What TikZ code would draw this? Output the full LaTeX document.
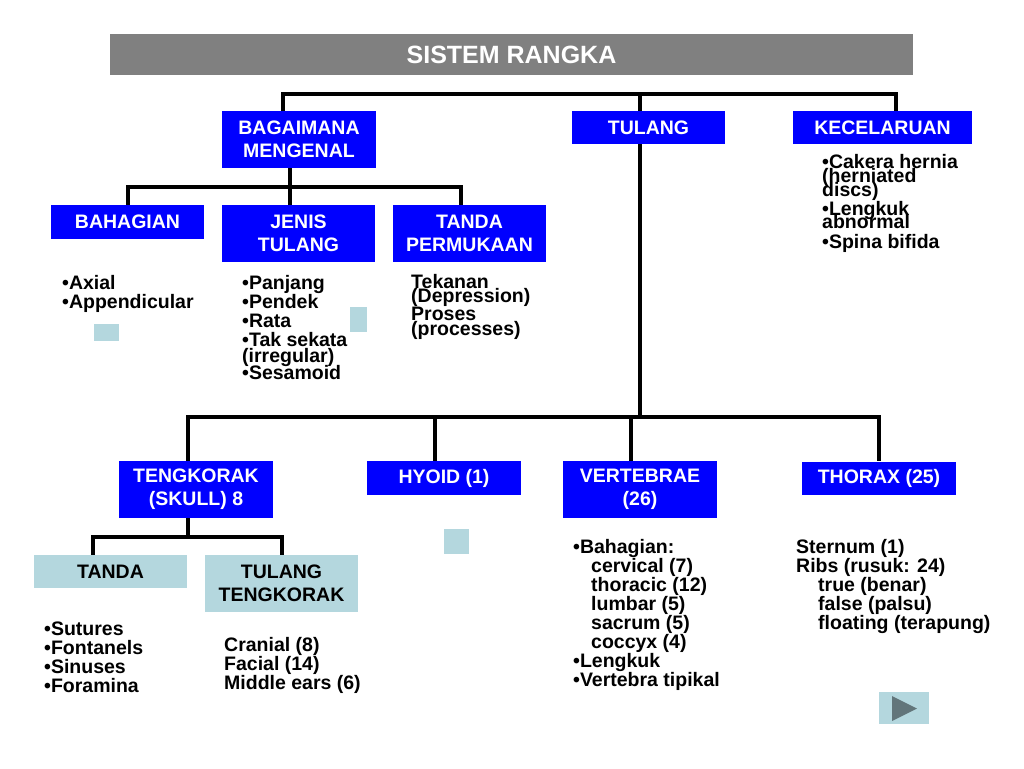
\documentclass[tikz,border=0pt]{standalone}
\usepackage{fontspec}
\setmainfont{Liberation Sans}
\definecolor{kotakbiru}{RGB}{0,0,255}
\definecolor{kelabu}{RGB}{128,128,128}
\definecolor{birumuda}{RGB}{180,215,222}
\definecolor{segitiga}{RGB}{98,117,122}

\begin{document}
\begin{tikzpicture}[
    x=1pt, y=-1pt,
    box/.style={fill=kotakbiru, text=white, inner sep=0pt, align=center,
        minimum width=153, minimum height=33,
        font=\fontsize{19.5}{23}\selectfont\bfseries},
    lightbox/.style={box, fill=birumuda, text=black},
    senarai/.style={anchor=base west, inner sep=0pt, align=left,
        font=\fontsize{19.5}{19}\selectfont\bfseries},
    conn/.style={line width=4, line join=miter}
]
    \useasboundingbox (0,0) rectangle (1024,768);

    % Tajuk
    \node[fill=kelabu, text=white, minimum width=803, minimum height=41, inner sep=0pt,
        font=\fontsize{25}{28}\selectfont\bfseries] (tajuk) at (511.5,54.5) {SISTEM RANGKA};

    % Aras pertama
    \node[box, minimum width=154, minimum height=57] (bagaimana) at (299,139.5) {BAGAIMANA\\MENGENAL};
    \node[box] (tulang) at (648.5,127.5) {TULANG};
    \node[box, minimum width=179] (kecelaruan) at (882.5,127.5) {KECELARUAN};

    % Aras kedua
    \node[box, minimum height=34] (bahagian) at (127.5,222) {BAHAGIAN};
    \node[box, minimum height=57] (jenis) at (298.5,233.5) {JENIS\\TULANG};
    \node[box, minimum height=57] (tandaperm) at (469.5,233.5) {TANDA\\PERMUKAAN};

    % Aras ketiga
    \node[box, minimum width=154, minimum height=57] (tengkorak) at (196,489.5) {TENGKORAK\\(SKULL) 8};
    \node[box, minimum width=154, minimum height=34] (hyoid) at (444,478) {HYOID (1)};
    \node[box, minimum width=154, minimum height=57] (vertebrae) at (640,489.5) {VERTEBRAE\\(26)};
    \node[box, minimum width=154] (thorax) at (879,478) {THORAX (25)};

    % Tengkorak
    \node[lightbox] (tandatk) at (110.5,571.5) {TANDA};
    \node[lightbox, minimum height=57] (tulangtk) at (281.5,583.5) {TULANG\\TENGKORAK};

    % Senarai (kedudukan = garis dasar baris terakhir)
    \node[senarai] (lkecelaruan) at (822,248) {•Cakera hernia\\[-5pt](herniated\\[-5pt]discs)\\•Lengkuk\\[-6pt]abnormal\\[1pt]•Spina bifida};
    \node[senarai] (lbahagian) at (62,308) {•Axial\\•Appendicular};
    \node[senarai] (ljenis) at (242,379) {•Panjang\\•Pendek\\•Rata\\•Tak sekata\\[-3pt](irregular)\\[-2pt]•Sesamoid};
    \node[senarai] (ltandaperm) at (411,335) {Tekanan\\[-5pt](Depression)\\[-1pt]Proses\\[-4pt](processes)};
    \node[senarai] (ltandatk) at (44,692) {•Sutures\\•Fontanels\\•Sinuses\\•Foramina};
    \node[senarai] (ltulangtk) at (224,689) {Cranial (8)\\Facial (14)\\Middle ears (6)};
    \node[senarai] (lvertebrae) at (573,686) {•Bahagian:\\\hspace*{18pt}cervical (7)\\\hspace*{18pt}thoracic (12)\\\hspace*{18pt}lumbar (5)\\\hspace*{18pt}sacrum (5)\\\hspace*{18pt}coccyx (4)\\•Lengkuk\\•Vertebra tipikal};
    \node[senarai] (lthorax) at (796,629) {Sternum (1)\\Ribs (rusuk: 24)\\\hspace*{22pt}true (benar)\\\hspace*{22pt}false (palsu)\\\hspace*{22pt}floating (terapung)};

    % Titik simpang
    \coordinate (j1) at (283,94);
    \coordinate (j2) at (640,94);
    \coordinate (j3) at (896,94);
    \coordinate (k1) at (128,187);
    \coordinate (k2) at (290,187);
    \coordinate (k3) at (461,187);
    \coordinate (m0) at (640,417);
    \coordinate (m1) at (188,417);
    \coordinate (m2) at (435,417);
    \coordinate (m3) at (631,417);
    \coordinate (m4) at (879,417);
    \coordinate (s0) at (188,537);
    \coordinate (s1) at (93,537);
    \coordinate (s2) at (282,537);

    % Garisan penyambung
    \draw[conn] (j1 |- bagaimana.north) -- (j1) -- (j3) -- (j3 |- kecelaruan.north);
    \draw[conn] (j2) -- (j2 |- tulang.north);
    \draw[conn] (k2 |- bagaimana.south) -- (k2 |- jenis.north);
    \draw[conn] (k1 |- bahagian.north) -- (k1) -- (k3) -- (k3 |- tandaperm.north);
    \draw[conn] (j2 |- tulang.south) -- (m0);
    \draw[conn] (m1 |- tengkorak.north) -- (m1) -- (m4) -- (m4 |- thorax.north);
    \draw[conn] (m2) -- (m2 |- hyoid.north);
    \draw[conn] (m3) -- (m3 |- vertebrae.north);
    \draw[conn] (s0 |- tengkorak.south) -- (s0);
    \draw[conn] (s1 |- tandatk.north) -- (s1) -- (s2) -- (s2 |- tulangtk.north);

    % Petak kecil
    \fill[birumuda] (94,324) rectangle (119,341);
    \fill[birumuda] (350,307) rectangle (367,332);
    \fill[birumuda] (444,529) rectangle (469,554);

    % Butang
    \fill[birumuda] (879,692) rectangle (929,724);
    \fill[segitiga] (892,696) -- (917,708.5) -- (892,721) -- cycle;
\end{tikzpicture}
\end{document}
